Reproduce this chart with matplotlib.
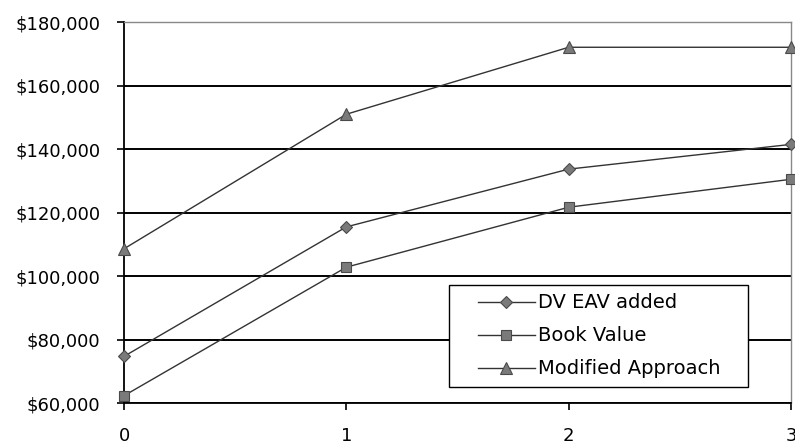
import matplotlib
matplotlib.use("Agg")
import matplotlib.pyplot as plt
from matplotlib.patches import Rectangle
from matplotlib.ticker import FuncFormatter

years = [0, 1, 2, 3]
dv_eav_added = [74700, 115500, 133700, 141500]
book_value = [62300, 102800, 121700, 130500]
modified_approach = [108600, 151000, 172100, 172100]
series_labels = ["DV EAV added", "Book Value", "Modified Approach"]
y_ticks = [60000, 80000, 100000, 120000, 140000, 160000, 180000]

plt.rcParams["font.family"] = ["DejaVu Sans"]

fig = plt.figure(figsize=(7.95, 4.44), dpi=100)
ax = fig.add_axes([0.156, 0.0923, 0.839, 0.8577])

line_kw = dict(color="#333333", linewidth=1.0, markerfacecolor="#7a7a7a",
               markeredgecolor="#4a4a4a", markeredgewidth=0.8, clip_on=False, zorder=3)
ax.plot(years, dv_eav_added, marker="D", markersize=6.5, label=series_labels[0], **line_kw)
ax.plot(years, book_value, marker="s", markersize=7.5, label=series_labels[1], **line_kw)
ax.plot(years, modified_approach, marker="^", markersize=8.5, label=series_labels[2], **line_kw)

ax.set_xlim(0, 3)
ax.set_ylim(60000, 180000)
ax.set_xticks(years)
ax.set_yticks(y_ticks)
ax.yaxis.set_major_formatter(FuncFormatter(lambda v, p: "${:,.0f}".format(v)))
ax.grid(axis="y", color="black", linewidth=1.4, zorder=1)
ax.set_axisbelow(True)

for side in ("top", "right"):
    ax.spines[side].set_color("#888888")
    ax.spines[side].set_linestyle((0, (1, 1)))
    ax.spines[side].set_linewidth(1.0)
for side in ("left", "bottom"):
    ax.spines[side].set_color("black")
    ax.spines[side].set_linewidth(1.3)

ax.tick_params(axis="both", direction="out", length=5, width=1.2, colors="black",
               labelsize=13)
ax.tick_params(axis="y", pad=12)
ax.tick_params(axis="x", pad=12)

# Legend box with wide side margins, entries centred inside it
box = Rectangle((0.487, 0.042), 0.449, 0.268, transform=ax.transAxes,
                facecolor="white", edgecolor="black", linewidth=1.0, zorder=4)
ax.add_patch(box)
leg = ax.legend(loc="center", bbox_to_anchor=(0.713, 0.176), fontsize=14,
                frameon=False, handlelength=2.9, labelspacing=0.72,
                borderpad=0.0, handletextpad=0.2)
leg.set_zorder(5)

fig.savefig("out.png", dpi=100)
